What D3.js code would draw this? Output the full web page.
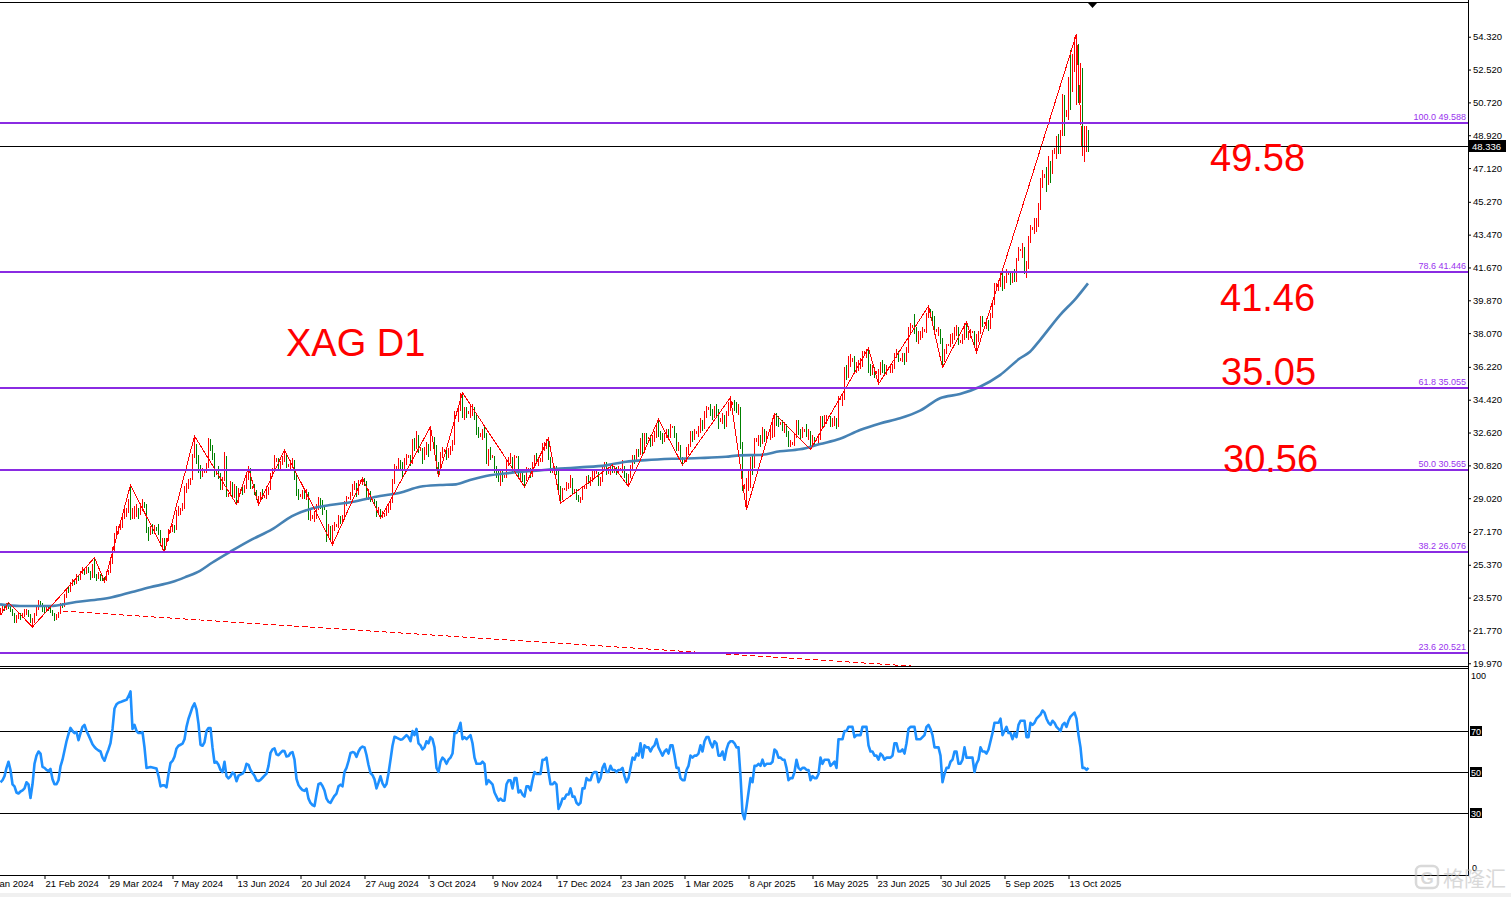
<!DOCTYPE html>
<html><head><meta charset="utf-8">
<script src="https://cdn.jsdelivr.net/npm/d3@7"></script>
<style>
html,body{margin:0;padding:0;background:#fff;overflow:hidden;}
svg{display:block;font-family:"Liberation Sans",Arial,sans-serif;}
</style></head><body>
<svg id="chart" width="1511" height="897"></svg>
<script>
// ---------------- DATA ----------------
const closes = [
22.85,23.05,22.95,23.20,23.10,22.90, 22.70,22.35,22.45,22.65,22.50,22.60,
22.75,22.80,22.60,22.30,22.30,22.60, 22.95,23.35,23.20,22.95,22.85,23.00,
22.95,22.85,22.65,22.45,22.55,22.70, 23.15,23.10,23.65,24.00,23.90,24.30,
24.40,24.35,24.75,24.60,24.95,25.15, 24.90,25.10,25.00,24.70,25.20,24.75,
24.65,24.80,24.65,24.60,24.55,24.95, 24.95,25.45,26.20,27.00,27.30,27.35,
27.50,27.95,28.30,28.30,28.75,28.00, 28.20,28.20,28.35,28.25,28.50,28.70,
28.65,27.30,27.15,27.30,27.25,27.40, 27.30,27.15,26.60,26.70,26.55,26.75,
27.20,27.30,27.45,27.30,28.20,28.25, 28.40,28.50,29.60,29.65,29.85,30.00,
31.25,31.80,31.20,30.60,30.40,30.50, 30.50,30.80,32.00,31.90,31.30,30.40,
30.40,30.30,29.50,30.00,31.30,29.20, 29.20,29.80,29.10,29.60,28.80,29.50,
29.50,29.40,29.60,30.10,30.60,29.60, 29.60,29.40,29.00,29.00,29.20,29.10,
29.10,29.50,29.50,30.30,30.60,31.10, 31.10,30.80,30.90,31.20,31.30,30.80,
30.80,30.90,31.00,30.20,29.30,29.20, 29.20,29.30,29.20,29.30,28.00,28.00,
28.00,28.00,28.50,28.90,28.60,28.50, 28.45,27.30,27.30,26.80,27.40,27.50,
27.50,27.90,27.80,27.90,28.70,29.00, 29.00,29.20,29.60,29.80,29.30,29.90,
29.90,30.00,29.90,29.20,29.30,28.90, 28.90,28.80,28.30,28.40,28.00,28.10,
28.10,28.40,28.50,28.80,29.90,30.70, 30.70,31.00,30.70,30.60,31.00,31.30,
31.30,31.00,32.10,31.80,32.40,31.70, 31.70,31.20,31.50,31.90,31.60,32.20,
32.20,31.90,30.70,30.60,31.40,31.60, 31.60,31.30,31.60,31.70,32.00,33.70,
33.70,33.90,34.70,33.60,33.80,33.70, 33.70,33.80,33.90,33.60,32.70,32.50,
32.50,32.60,32.50,31.20,31.50,31.30, 31.30,30.60,30.40,30.20,30.30,30.20,
30.20,31.00,31.20,31.20,30.60,31.30, 31.30,30.30,30.40,30.10,30.00,30.60,
30.60,30.30,30.80,31.20,31.10,31.10, 31.10,31.90,31.90,32.00,31.20,30.50,
30.50,30.60,30.50,29.60,29.20,29.50, 29.50,29.70,29.70,30.10,29.40,29.40,
29.00,28.90,29.00,29.60,29.60,30.10, 30.00,30.00,30.30,30.40,30.40,29.80,
30.00,30.70,30.90,30.40,30.40,30.80, 30.60,30.60,30.50,30.60,30.60,30.70,
30.30,30.00,30.20,30.70,31.30,31.20, 31.60,31.50,32.20,31.60,32.40,32.30,
32.30,32.00,32.30,32.40,32.90,32.60, 32.40,32.20,32.40,32.60,32.40,32.90,
32.90,32.50,31.80,31.90,31.20,31.10, 31.10,31.60,31.80,32.50,32.40,32.60,
32.60,32.70,33.20,32.90,33.60,33.90, 33.90,33.70,33.50,33.90,33.80,33.30,
33.30,33.50,33.00,33.60,34.10,34.20, 34.20,34.10,33.90,33.90,32.00,29.60,
29.60,29.90,30.20,31.10,30.80,32.20, 32.20,32.30,32.20,32.70,32.40,32.50,
32.50,32.50,32.60,33.50,33.40,33.10, 33.10,33.00,33.00,32.60,31.90,32.00,
32.00,32.40,33.20,32.70,32.50,32.70, 32.70,32.60,32.60,32.10,32.30,32.20,
32.20,32.30,33.40,33.00,33.40,33.40, 33.40,33.10,33.20,33.30,33.00,34.50,
34.50,34.50,36.00,35.80,36.60,36.60, 36.60,36.10,36.30,36.30,36.40,37.00,
37.00,37.10,36.20,36.00,36.10,35.90, 35.90,36.00,36.30,36.20,36.00,36.10,
36.10,36.10,36.20,36.90,37.00,36.60, 36.60,36.80,36.60,37.10,38.30,38.40,
38.40,38.20,37.80,37.90,37.90,38.20, 38.20,39.00,39.30,39.10,38.90,38.20,
38.20,38.20,37.70,36.70,37.00,37.40, 37.40,37.80,37.80,38.30,38.30,37.60,
37.60,37.80,38.50,38.00,38.00,38.10, 38.10,37.40,37.90,38.10,38.90,38.60,
38.60,38.60,38.50,39.00,39.70,40.70, 40.70,40.80,41.40,40.60,41.00,41.30,
41.30,40.90,41.30,41.00,42.10,42.60, 42.60,42.70,41.60,41.60,43.20,43.80,
43.80,44.00,44.10,45.00,46.50,46.70, 46.70,46.40,47.40,47.00,48.00,48.00,
48.70,48.30,49.00,50.20,50.10,50.10, 52.00,51.40,53.30,53.40,53.90,51.90,
52.50,48.60,49.00,49.10,48.34
];
const highs = [
23.00,23.15,23.20,23.28,23.31,23.15, 22.95,22.75,22.60,22.80,22.70,22.70,
22.95,22.95,22.90,22.65,22.45,22.70, 23.05,23.45,23.40,23.25,23.05,23.10,
23.10,23.00,22.90,22.70,22.65,22.80, 23.25,23.30,23.75,24.10,24.15,24.45,
24.60,24.50,24.85,24.80,25.05,25.25, 25.20,25.25,25.25,25.05,25.40,25.76,
24.85,24.95,24.85,24.80,24.70,25.05, 25.10,25.65,26.35,27.10,27.50,27.50,
27.70,28.10,28.60,28.50,28.95,29.74, 28.50,28.60,28.70,28.50,28.75,29.00,
28.80,28.70,27.45,27.50,27.60,27.55, 27.45,27.60,27.30,26.85,26.85,26.85,
27.35,27.50,27.60,27.55,28.35,28.60, 28.50,28.75,29.70,29.85,30.05,30.15,
31.45,32.43,32.00,31.40,30.85,30.70, 30.60,30.95,32.30,32.25,31.95,31.50,
30.50,30.80,30.40,30.20,31.55,31.35, 29.30,29.95,29.90,29.80,29.70,29.60,
29.55,29.65,29.75,30.30,30.71,30.65, 29.70,29.80,29.45,29.15,29.35,29.55,
29.20,29.70,29.65,30.40,30.70,31.40, 31.20,31.20,31.05,31.35,31.66,31.40,
30.90,31.10,31.20,31.10,30.30,29.50, 29.25,29.45,29.40,29.50,29.35,28.40,
28.10,28.30,28.70,29.10,29.05,28.90, 28.55,28.35,27.60,27.50,27.55,27.70,
27.60,28.10,28.05,28.10,28.85,29.15, 29.10,29.35,29.80,29.95,29.85,30.00,
30.00,30.11,30.10,29.95,29.50,29.40, 29.00,29.00,28.85,28.55,28.45,28.30,
28.20,28.60,28.70,29.00,30.05,30.90, 30.80,31.20,31.10,31.00,31.20,31.45,
31.40,31.40,32.25,32.30,32.72,32.50, 31.80,31.75,31.80,32.10,32.00,32.94,
32.30,32.40,31.95,31.00,31.55,31.80, 31.70,31.80,31.75,31.90,32.20,33.80,
33.80,34.10,34.80,34.80,34.00,34.00, 33.80,34.10,34.20,34.00,33.70,32.90,
32.60,32.80,33.00,32.60,31.70,31.80, 31.40,31.35,30.80,30.60,30.60,30.50,
30.30,31.10,31.30,31.50,31.30,31.40, 31.35,31.35,30.60,30.50,30.30,30.75,
30.65,30.70,31.00,31.40,31.50,31.30, 31.20,32.05,32.10,32.25,32.30,31.30,
30.60,30.80,30.80,30.60,29.70,29.60, 29.60,29.90,29.85,30.30,30.15,29.50,
29.50,29.20,29.10,29.70,29.70,30.25, 30.30,30.20,30.50,30.60,30.50,30.45,
30.20,30.80,31.00,31.00,30.50,30.90, 30.84,30.80,30.75,30.80,30.70,31.10,
30.80,30.40,30.35,30.85,31.40,31.40, 31.70,31.70,32.30,32.60,32.60,32.60,
32.40,32.50,32.50,32.70,33.10,33.34, 32.70,32.60,32.60,32.80,32.80,33.10,
33.00,33.00,32.60,32.10,31.95,31.30, 31.20,31.80,32.00,32.70,32.70,32.80,
32.70,33.00,33.40,33.30,33.80,34.10, 34.00,34.20,33.90,34.10,34.20,33.90,
33.40,33.70,33.60,33.80,34.30,34.55, 34.30,34.40,34.30,34.20,34.00,32.10,
29.80,30.10,30.60,31.30,31.40,32.30, 32.30,32.50,32.50,32.90,32.80,32.70,
32.60,32.90,33.20,33.67,33.70,33.50, 33.20,33.30,33.20,33.10,32.70,32.20,
32.10,32.60,33.30,33.30,32.80,32.90, 32.80,33.10,32.80,32.70,32.50,32.40,
32.30,32.50,33.50,33.50,33.60,33.60, 33.50,33.50,33.40,33.50,33.40,34.60,
34.60,34.80,36.20,36.30,36.80,36.90, 36.70,36.80,36.50,36.60,36.70,37.10,
37.10,37.20,37.24,36.40,36.30,36.20, 36.00,36.10,36.50,36.60,36.40,36.30,
36.20,36.40,36.40,37.00,37.20,37.10, 36.70,37.00,37.00,37.30,38.40,38.60,
38.50,39.13,38.40,38.20,38.20,38.40, 38.30,39.20,39.56,39.40,39.30,39.00,
38.30,38.40,38.30,37.80,37.20,37.50, 37.50,38.00,38.10,38.40,38.50,38.40,
37.70,38.00,38.60,38.69,38.20,38.30, 38.20,38.20,38.00,38.20,39.00,39.00,
38.70,38.90,38.80,39.20,39.90,40.80, 40.80,41.00,41.50,41.50,41.20,41.60,
41.40,41.40,41.50,41.60,42.20,42.80, 42.70,43.00,42.80,42.00,43.40,44.00,
43.90,44.40,44.40,45.20,46.60,47.00, 46.80,47.20,47.80,47.50,48.10,48.20,
48.90,49.00,49.20,51.20,51.10,50.30, 52.10,53.60,53.40,54.30,54.47,53.90,
52.90,52.60,49.40,49.40,49.20
];
const lows = [
22.60,22.80,22.85,22.90,22.95,22.80, 22.55,22.20,22.20,22.40,22.35,22.45,
22.50,22.60,22.50,22.20,21.96,22.20, 22.55,22.90,23.05,22.80,22.70,22.80,
22.85,22.70,22.55,22.30,22.35,22.45, 22.65,23.00,23.05,23.55,23.80,23.85,
24.20,24.25,24.30,24.50,24.55,24.85, 24.80,24.85,24.90,24.55,24.65,24.65,
24.50,24.60,24.50,24.50,24.44,24.50, 24.80,24.90,25.40,26.10,26.85,27.05,
27.25,27.40,27.90,28.00,28.20,27.85, 27.90,27.90,28.00,27.90,28.10,28.30,
28.50,27.10,26.70,27.00,27.05,27.05, 27.20,27.00,26.40,26.20,26.09,26.45,
26.70,27.10,27.15,27.10,27.25,28.05, 28.10,28.30,28.45,29.30,29.50,29.75,
30.00,31.20,30.90,30.40,30.05,30.20, 30.40,30.40,30.70,31.60,31.10,30.20,
30.30,30.05,29.45,29.45,29.95,29.10, 29.10,29.15,28.95,29.05,28.68,28.75,
29.40,29.20,29.30,29.50,30.00,29.50, 29.50,29.20,28.90,28.65,28.85,29.00,
29.05,29.00,29.20,29.45,30.20,30.50, 31.00,30.60,30.60,30.85,31.00,30.65,
30.75,30.60,30.70,30.00,29.15,28.90, 29.10,28.95,28.95,28.90,27.85,27.75,
27.90,27.70,27.90,28.40,28.45,28.10, 28.40,26.60,26.90,26.60,26.47,27.20,
27.45,27.40,27.60,27.60,27.85,28.60, 28.95,28.90,29.15,29.45,29.10,29.20,
29.85,29.75,29.70,29.00,28.90,28.80, 28.85,28.60,28.00,28.15,27.92,27.95,
28.00,28.05,28.20,28.40,28.75,29.80, 30.60,30.50,30.50,30.20,30.50,30.85,
31.20,30.80,30.90,31.60,31.70,31.50, 31.60,30.90,31.10,31.40,31.30,31.60,
32.10,31.60,30.50,30.20,30.50,31.20, 31.55,31.10,31.20,31.40,31.60,31.95,
33.60,33.20,33.80,33.40,33.30,33.40, 33.65,33.40,33.50,33.30,32.50,32.30,
32.40,32.20,32.30,30.90,30.80,31.10, 31.25,30.40,30.10,29.90,29.70,29.90,
30.15,30.10,30.80,30.90,30.40,30.50, 31.20,30.20,30.00,29.90,29.65,29.95,
30.50,30.10,30.20,30.70,30.90,30.80, 31.00,31.00,31.60,31.70,31.10,30.40,
30.40,30.30,30.30,29.30,28.74,28.90, 29.45,29.40,29.50,29.60,29.20,29.35,
28.90,28.80,28.74,28.90,29.50,29.50, 29.80,29.70,29.90,30.10,30.35,29.70,
29.70,29.90,30.50,30.30,30.35,30.30, 30.40,30.40,30.30,30.40,30.55,30.40,
30.10,29.80,29.67,30.10,30.60,30.90, 31.10,31.30,31.40,31.40,31.50,32.00,
32.25,31.80,31.90,32.10,32.30,32.40, 32.20,32.00,32.10,32.30,32.20,32.30,
32.85,32.30,31.60,31.60,31.00,30.84, 31.05,31.00,31.40,31.80,32.10,32.20,
32.55,32.40,32.60,32.70,32.80,33.40, 33.85,33.50,33.30,33.40,33.50,32.80,
33.20,33.10,32.80,32.90,33.50,33.80, 34.15,33.80,33.70,33.60,31.70,29.40,
29.50,28.37,29.40,29.60,30.30,30.70, 32.10,31.90,31.80,32.00,32.10,32.20,
32.45,32.20,32.30,32.40,33.00,32.90, 33.05,32.70,32.60,32.40,31.80,31.80,
31.95,31.90,32.30,32.50,32.20,32.30, 32.65,32.40,32.20,31.70,31.90,31.90,
32.15,32.00,32.20,32.80,32.90,33.10, 33.35,32.90,32.90,33.00,32.80,32.95,
34.40,34.10,34.40,35.50,35.60,36.20, 36.50,35.90,35.90,36.00,36.10,36.20,
36.95,36.70,35.90,35.70,35.80,35.60, 35.85,35.28,35.80,35.90,35.70,35.80,
36.05,35.90,35.90,36.10,36.70,36.50, 36.55,36.50,36.30,36.50,37.00,38.00,
38.35,38.00,37.60,37.50,37.70,37.80, 38.15,38.10,38.90,38.90,38.70,38.00,
38.15,37.90,37.50,36.19,36.50,36.90, 37.35,37.30,37.50,37.70,37.90,37.40,
37.55,37.50,37.70,37.80,37.70,37.80, 38.05,37.30,36.99,37.60,38.00,38.40,
38.55,38.30,38.20,38.30,38.90,39.60, 40.60,40.40,40.60,40.40,40.50,40.80,
41.25,40.70,40.80,40.90,40.90,42.00, 42.55,42.20,41.30,41.10,41.60,43.00,
43.70,43.50,43.60,43.90,44.80,46.00, 46.60,45.80,46.20,46.30,46.80,47.90,
47.60,47.90,47.90,48.90,48.90,49.90, 49.75,50.30,51.30,52.40,50.60,50.70,
50.70,47.80,47.45,48.00,48.00
];
// RSI read per bar
const rsi = [
45,46,48,52,55,51,44,43,40,39.5, 40.5,41,42,45,44,37.3,44,54,58,60,
59,52.5,52,51,50.5,51.5,46.5,44,44,46, 52.7,56,60.5,65,68.5,71.5,70,69,69.5,65.5,
69,72,73,70,68,65.8,63.5,62.2,61.2,60.5, 60,57,55.5,58.5,61,64.1,71,81,83,83.8,
84.1,84.5,84.9,85.2,87,89.3,71,73,70,69, 69,69.5,62,52,52.2,52.4,52.2,52,51.7,48,
43,43.5,43.5,42.5,49,54.4,55.4,57.5,61.5,62.8, 63.3,63.8,66,72,76,78.8,81.7,83.5,80.5,73.5,
63.3,62.8,64.5,70,71.5,71.5,62,54.5,55,53.5, 51,50,55,48,46.9,47.9,49.7,49,45.5,48.2,
48.7,49.2,50.5,54,53.5,51,49.5,48.2,46,45.6, 46.2,47.2,48.2,49.2,53,59.3,61,61.5,58.6,58.2,
59.3,60.3,60.2,57.6,57.8,59.3,59.7,56,46.6,43.6, 42.2,41.2,40.8,41.9,37,34.9,33.9,33.4,39,44.1,
44.6,43.2,41,37,35.4,34.9,36.8,38.4,39.5,43, 43.8,43,50.1,52,55.3,59.3,59.7,59.4,57.4,60,
61.7,62.4,62,58.3,53.4,49.5,48.5,46.4,42,44.8, 47.9,44.5,42.7,44.1,49.4,56,62.8,67.2,66.8,66.3,
65.8,
66,67,68,67,65,70,68,71,64,63,61,62,65,64,67,
66,62,52,50,55,57,56,54,56,57,59,69,69,71,74,
66,67,66,67,68,64,57,54,54,54,55,54,44,46,45,
44,40,38,36,37,36,36,44,46,46,42,47,47,40,41,
39,38,43,43,41,46,50,49,49,49,56,56,57,50,44,
44,45,44,32,34,37,37,39,39,42,38,38,35,34,35,
42,42,47,46,46,49,50,50,45,47,52,54,50,50,53,
51,51,50,51,51,52,48,45,47,52,57,56,59,58,64,
57,63,62,62,60,62,63,66,62,60,58,60,61,59,63,
63,58,52,52,47,46,46,51,53,58,57,58,58,59,63,
60,65,67,67,64,62,65,64,58,58,60,56,61,64,65,
65,64,62,62,48,30,27,33,40,47,45,53,53,54,53,
56,53,54,54,54,55,61,60,57,57,56,56,52,46,47,
47,50,56,52,51,52,52,51,51,46,48,47,47,49,57,
54,56,56,56,53,54,55,52,66,66,66,70,70,72,72,
72,67,68,68,68,72,72,72,63,60,60,58,58,56,59,
58,56,57,57,57,58,64,64,60,60,61,59,64,71,72,
72,72,66,66,66,67,68,72,73,71,68,62,62,62,58,
45,49,52,52,55,56,60,60,54,54,56,62,57,57,57,
57,50,54,56,62,60,60,59,61,65,69,74,74,74,76,
68,70,72,69,69,66,69,67,73,75,75,75,67,67,74,
73,74,76,77,78,80,79,76,74,73,75,74,72,71,70,
73,74,72,75,77,78,79,76,68,62,52,52,51,52
];
// moving average (blue) read at bar indices
const maIdx = [0,10,25,38,50,56,66,75,86,93,100,106,116,126,136,146,156,166,176,190,200,210,220,228,235,243,256,268,280,290,303,313,323,336,350,363,370,380,390,400,410,420,430,440,450,460,470,480,490,500,510,515,520,530,538,544];
const maVal = [23.20,23.11,23.11,23.33,23.48,23.59,23.88,24.14,24.42,24.71,25.04,25.48,26.14,26.76,27.31,28.04,28.46,28.66,28.81,29.14,29.32,29.65,29.74,29.78,30.02,30.24,30.42,30.53,30.64,30.71,30.82,31.02,31.11,31.18,31.22,31.29,31.37,31.39,31.59,31.70,31.99,32.28,32.76,33.12,33.40,33.82,34.50,34.73,35.13,35.77,36.69,37.05,37.69,39.06,39.98,40.80];
// zigzag swing points
const zigIdx = [0,4,16,47,52,65,82,97,118,124,129,142,166,181,190,215,219,231,262,274,280,306,314,329,341,365,373,387,405,434,439,464,471,483,488,538,541];
const zigVal = [22.60,23.31,21.96,25.76,24.44,29.74,26.09,32.43,28.68,30.71,28.65,31.66,26.47,30.11,27.92,32.94,30.20,34.80,29.65,32.30,28.74,30.84,29.67,33.34,30.84,34.55,28.37,33.67,31.70,37.24,35.28,39.56,36.19,38.69,36.99,54.47,47.80];
// dashed trend line anchors
const trendIdx = [31.5, 452.5];
const trendVal = [22.83, 19.84];
// fibonacci levels
const fibPct = ["100.0","78.6","61.8","50.0","38.2","23.6"];
const fibPrice = [49.588,41.446,35.055,30.565,26.076,20.521];
const priceTicks = [54.32,52.52,50.72,48.92,47.12,45.27,43.47,41.67,39.87,38.07,36.22,34.42,32.62,30.82,29.02,27.17,25.37,23.57,21.77,19.97];
const lastPrice = 48.336;
const rsiLevels = [70,50,30];
const dateTickIdx = [-10,22,54,86,118,150,182,214,246,278,310,342,374,406,438,470,502,534];
const dateTickLabels = ["15 Jan 2024","21 Feb 2024","29 Mar 2024","7 May 2024","13 Jun 2024","20 Jul 2024","27 Aug 2024","3 Oct 2024","9 Nov 2024","17 Dec 2024","23 Jan 2025","1 Mar 2025","8 Apr 2025","16 May 2025","23 Jun 2025","30 Jul 2025","5 Sep 2025","13 Oct 2025"];
const annText = ["XAG D1","49.58","41.46","35.05","30.56"];
const annIdx = [143,605,610,610.5,611.5];
const annPrice = [36.81,46.96,39.27,35.22,30.45];

// ---------------- LAYOUT ----------------
const W = 1511, H = 897;
const axisX = 1468, mainTop = 3, mainBot = 666, rsiTop = 669.5, rsiBot = 874.5, dateY = 875;
const svg = d3.select("#chart");
const xS = d3.scaleLinear().domain([0, 544]).range([0, 1088]);
const yP = d3.scaleLinear().domain([19.82, 56.17]).range([mainBot, mainTop]);
const yR = d3.scaleLinear().domain([0, 100]).range([rsiBot, rsiTop]);

const defs = svg.append("defs");
defs.append("clipPath").attr("id","clipMain").append("rect").attr("x",0).attr("y",mainTop).attr("width",axisX).attr("height",mainBot-mainTop);
defs.append("clipPath").attr("id","clipRsi").append("rect").attr("x",0).attr("y",rsiTop-2).attr("width",axisX).attr("height",rsiBot-rsiTop+2);

svg.append("rect").attr("x",0).attr("y",0).attr("width",W).attr("height",H).attr("fill","#fff");
svg.append("rect").attr("x",0).attr("y",893).attr("width",W).attr("height",4).attr("fill","#f0f0f0");

const main = svg.append("g").attr("clip-path","url(#clipMain)");

// bars
const bars = closes.map((c,i)=>({i, c, h:highs[i], l:lows[i], o: i>0 ? closes[i-1] : c}));
main.append("g").selectAll("rect").data(bars).join("rect")
  .attr("x", d=>Math.round(xS(d.i)))
  .attr("y", d=>Math.round(yP(d.h)))
  .attr("width", 1)
  .attr("height", d=>Math.max(1, Math.round(yP(d.l)) - Math.round(yP(d.h))))
  .attr("fill", d=> d.c >= d.o ? "#ff0000" : "#008000")
  .attr("shape-rendering","crispEdges");

// moving average
const maPts = maIdx.map((d,k)=>[d, maVal[k]]);
main.append("path").datum(maPts)
  .attr("d", d3.line().x(d=>xS(d[0])).y(d=>yP(d[1])).curve(d3.curveMonotoneX))
  .attr("fill","none").attr("stroke","#4682b4").attr("stroke-width",2.6);

// zigzag
const zigPts = zigIdx.map((d,k)=>[d, zigVal[k]]);
main.append("path").datum(zigPts)
  .attr("d", d3.line().x(d=>xS(d[0])+0.5).y(d=>yP(d[1])))
  .attr("fill","none").attr("stroke","#ff0000").attr("stroke-width",1)
  .attr("shape-rendering","crispEdges");

// dashed trend line (extended to the right, clipped by pane)
const slope = (trendVal[1]-trendVal[0])/(trendIdx[1]-trendIdx[0]);
const tEnd = trendIdx[0] + 600;
main.append("line")
  .attr("x1", xS(trendIdx[0])).attr("y1", yP(trendVal[0]))
  .attr("x2", xS(tEnd)).attr("y2", yP(trendVal[0] + slope*(tEnd-trendIdx[0])))
  .attr("stroke","#ff0000").attr("stroke-width",1).attr("stroke-dasharray","5,3")
  .attr("shape-rendering","crispEdges");

// fib levels
const fibG = svg.append("g");
fibPrice.forEach((p,k)=>{
  const y = Math.round(yP(p));
  fibG.append("rect").attr("x",0).attr("y",y-1).attr("width",axisX).attr("height",2).attr("fill","#8a2be2");
  fibG.append("text").attr("x",axisX-2).attr("y",y-3).attr("text-anchor","end")
    .attr("font-size","9px").attr("fill","#9932ee").text(fibPct[k]+" "+fibPrice[k].toFixed(3));
});

// last price line
const ly = Math.round(yP(lastPrice));
svg.append("rect").attr("x",0).attr("y",ly).attr("width",axisX).attr("height",1).attr("fill","#000");

// annotations
annText.forEach((t,k)=>{
  svg.append("text").attr("x", xS(annIdx[k])).attr("y", yP(annPrice[k]))
    .attr("font-size","38px").attr("fill","#ff0000").text(t);
});

// ---------- frame ----------
svg.append("rect").attr("x",0).attr("y",2).attr("width",axisX).attr("height",1).attr("fill","#000");
svg.append("rect").attr("x",axisX).attr("y",0).attr("width",1).attr("height",dateY+1).attr("fill","#000");
svg.append("rect").attr("x",0).attr("y",mainBot).attr("width",axisX).attr("height",1).attr("fill","#000");
svg.append("rect").attr("x",0).attr("y",mainBot+2).attr("width",axisX).attr("height",1).attr("fill","#000");
svg.append("rect").attr("x",0).attr("y",dateY).attr("width",axisX).attr("height",1).attr("fill","#000");
// shift marker
svg.append("path").attr("d","M1088,3 L1097,3 L1092.5,8 Z").attr("fill","#000");

// price axis
const pAxis = svg.append("g").attr("transform",`translate(${axisX},0)`)
  .call(d3.axisRight(yP).tickValues(priceTicks).tickSize(3).tickFormat(d3.format(".3f")));
pAxis.select(".domain").remove();
pAxis.selectAll("line").attr("stroke","#000");
pAxis.selectAll("text").attr("font-size","9.5px").attr("fill","#000").attr("x",5).attr("font-family","Liberation Sans, Arial, sans-serif");

// last price label
svg.append("rect").attr("x",axisX+1).attr("y",ly-6).attr("width",37).attr("height",12).attr("fill","#000");
svg.append("text").attr("x",axisX+4).attr("y",ly+4).attr("font-size","9.5px").attr("fill","#fff").text(lastPrice.toFixed(3));

// ---------- RSI pane ----------
rsiLevels.forEach(v=>{
  const y = Math.round(yR(v));
  svg.append("rect").attr("x",0).attr("y",y).attr("width",axisX).attr("height",1).attr("fill","#000");
  svg.append("rect").attr("x",axisX+2).attr("y",y-5).attr("width",12).attr("height",10).attr("fill","#000");
  svg.append("text").attr("x",axisX+3).attr("y",y+3.5).attr("font-size","9px").attr("fill","#fff").text(v);
});
svg.append("text").attr("x",axisX+3).attr("y",yR(100)+9).attr("font-size","9px").attr("fill","#000").text("100");
svg.append("text").attr("x",axisX+4).attr("y",yR(0)-4).attr("font-size","9px").attr("fill","#000").text("0");

const rsiG = svg.append("g").attr("clip-path","url(#clipRsi)");
rsiG.append("path").datum(rsi)
  .attr("d", d3.line().x((d,i)=>xS(i)+0.5).y(d=>yR(d)))
  .attr("fill","none").attr("stroke","#1e90ff").attr("stroke-width",2.6).attr("stroke-linejoin","round");

// ---------- date axis ----------
const dAxis = svg.append("g").attr("transform",`translate(0,${dateY})`)
  .call(d3.axisBottom(xS).tickValues(dateTickIdx).tickSize(4).tickFormat((d,k)=>dateTickLabels[k]));
dAxis.select(".domain").remove();
dAxis.selectAll("line").attr("stroke","#000").attr("transform","translate(0.5,0)");
dAxis.selectAll("text").attr("text-anchor","start").attr("x",1).attr("y",5)
  .attr("font-size","9.5px").attr("fill","#000").attr("font-family","Liberation Sans, Arial, sans-serif");

// ---------- watermark ----------
const wm = svg.append("g").attr("opacity",0.55);
wm.append("rect").attr("x",1416).attr("y",866).attr("width",22).attr("height",22).attr("rx",5)
  .attr("fill","none").attr("stroke","#bbb").attr("stroke-width",2.5);
wm.append("text").attr("x",1427).attr("y",884).attr("text-anchor","middle").attr("font-size","17px")
  .attr("font-weight","bold").attr("fill","#bbb").text("G");
wm.append("text").attr("x",1443).attr("y",886).attr("font-size","21px")
  .attr("font-family","Noto Sans CJK SC, sans-serif").attr("fill","#bbb").text("格隆汇");
</script>
</body></html>
